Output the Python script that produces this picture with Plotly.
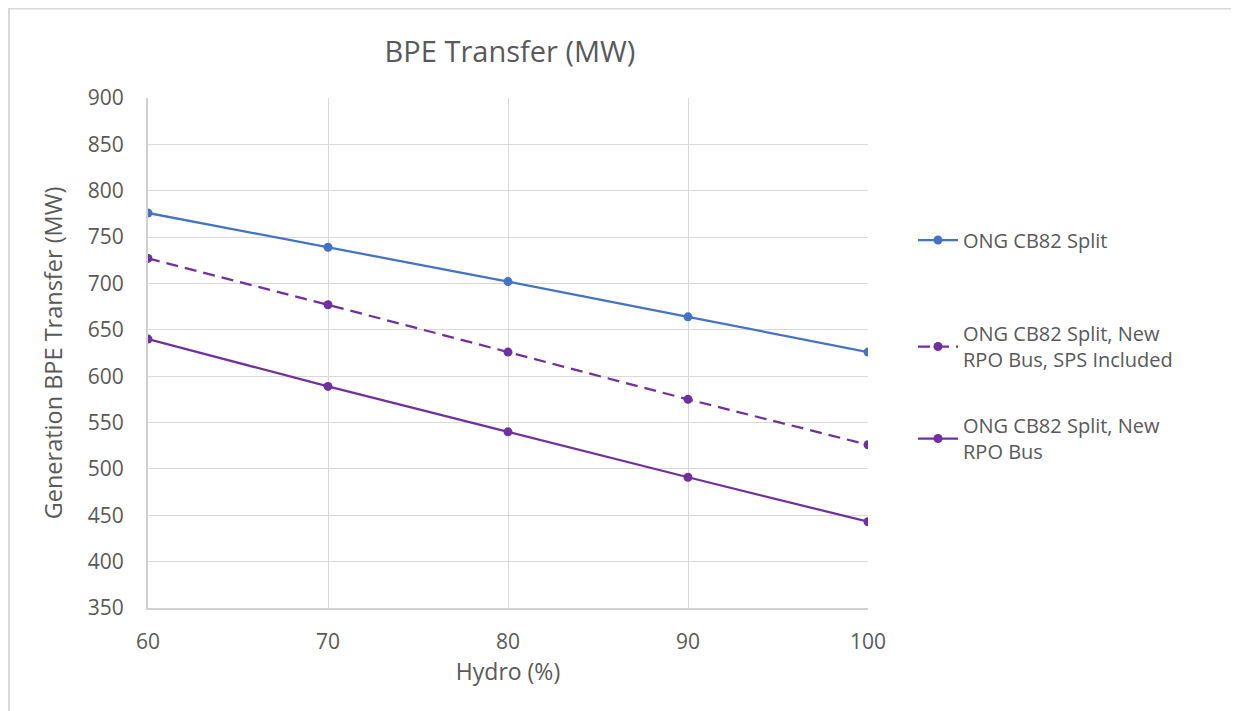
import plotly.graph_objects as go

hydro = [60, 70, 80, 90, 100]
split = [776, 739, 702, 664, 626]
split_rpo_sps = [727, 677, 626, 575, 526]
split_rpo = [640, 589, 540, 491, 443]

names = ["ONG CB82 Split",
         "ONG CB82 Split, New<br>RPO Bus, SPS Included",
         "ONG CB82 Split, New<br>RPO Bus"]
series = [split, split_rpo_sps, split_rpo]
colors = ["#4472C4", "#7030A0", "#7030A0"]
dashes = ["solid", "12px,7px", "solid"]
legend_ids = ["legend", "legend2", "legend3"]

# plot area in figure pixels
L, T, R, B = 140, 90, 860, 600
W, H = 1239, 711
pw, ph = R - L, B - T

font = "Open Sans, Noto Sans, sans-serif"
txt = "#595959"

fig = go.Figure()
for n, ys, c, d, lg in zip(names, series, colors, dashes, legend_ids):
    fig.add_trace(go.Scatter(
        x=hydro, y=ys, name=n, mode="lines+markers", legend=lg, showlegend=True,
        line=dict(color=c, width=2.25, dash=d),
        marker=dict(color=c, size=9),
    ))

def leg(yc):
    return dict(x=(905 - L) / pw, xanchor="left", y=1 - (yc - T) / ph, yanchor="middle",
                font=dict(size=20, color=txt, family=font), itemwidth=40,
                bgcolor="rgba(0,0,0,0)")

fig.update_layout(
    width=W, height=H,
    showlegend=True,
    margin=dict(l=L, r=W - R, t=T, b=H - B, autoexpand=False),
    paper_bgcolor="white", plot_bgcolor="white",
    font=dict(family=font, color=txt, size=20),
    title=dict(text="BPE Transfer (MW)", x=502 / W, xanchor="center",
               y=1 - 44 / H, yanchor="middle",
               font=dict(size=29, color=txt, family=font)),
    xaxis=dict(range=[60, 100], tickvals=hydro, showgrid=True, gridcolor="#D9D9D9",
               gridwidth=1, zeroline=False, showline=True, linecolor="#D0D0D0",
               linewidth=2, ticks="outside", ticklen=14, tickcolor="rgba(0,0,0,0)",
               tickfont=dict(size=21, color=txt),
               title=dict(text="Hydro (%)", font=dict(size=23, color=txt), standoff=9)),
    yaxis=dict(range=[350, 900], dtick=50, showgrid=True, gridcolor="#D9D9D9",
               gridwidth=1, zeroline=False, showline=True, linecolor="#D0D0D0",
               linewidth=2, ticks="outside", ticklen=18, tickcolor="rgba(0,0,0,0)",
               tickfont=dict(size=21, color=txt),
               title=dict(text="Generation BPE Transfer (MW)", font=dict(size=23.5, color=txt),
                          standoff=19)),
    legend=leg(232),
    legend2=leg(338.5),
    legend3=leg(430.5),
    shapes=[dict(type="rect", xref="paper", yref="paper",
                 x0=(1 - L) / pw, x1=(1229 - L) / pw,
                 y0=-(H - B + 20) / ph, y1=1 + (T - 0.5) / ph,
                 line=dict(color="#D9D9D9", width=2), fillcolor="rgba(0,0,0,0)",
                 layer="below")],
)

fig.write_html("out.html")
